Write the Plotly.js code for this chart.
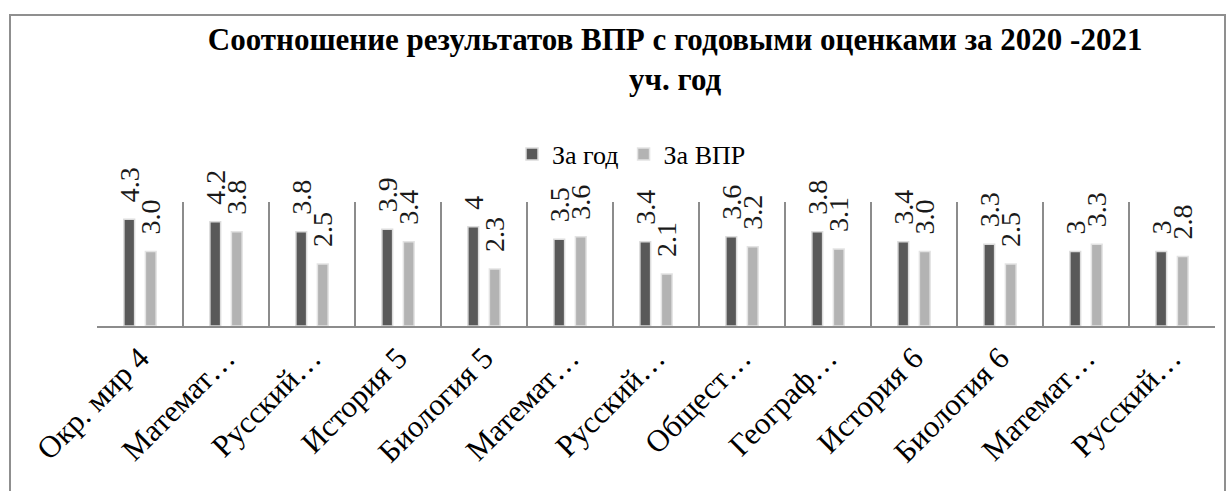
<!DOCTYPE html>
<html>
<head>
<meta charset="utf-8">
<script src="https://cdn.plot.ly/plotly-3.0.1.min.js"></script>
<style>
  html, body { margin: 0; padding: 0; background: #ffffff; }
  #chart { width: 1232px; height: 491px; }
</style>
</head>
<body>
<div id="chart"></div>
<script>
// Categories (tick labels as shown, truncated like the original)
var categories = [
  "Окр. мир 4", "Математ…", "Русский…", "История 5", "Биология 5",
  "Математ…", "Русский…", "Общест…", "Географ…", "История 6",
  "Биология 6", "Математ…", "Русский…"
];
// Series values
var zaGod = [4.3, 4.2, 3.8, 3.9, 4, 3.5, 3.4, 3.6, 3.8, 3.4, 3.3, 3, 3];
var zaVPR = [3.0, 3.8, 2.5, 3.4, 2.3, 3.6, 2.1, 3.2, 3.1, 3.0, 2.5, 3.3, 2.8];
var seriesNames = ["За год", "За ВПР"];

var idx = categories.map(function (_, i) { return i; });
var seps = [];
for (var k = 0; k <= categories.length; k++) seps.push(k - 0.5);

var serif = "'Liberation Serif', 'Times New Roman', Tinos, 'DejaVu Serif', serif";

var traceGod = {
  type: "bar",
  name: seriesNames[0],
  x: idx,
  y: zaGod,
  texttemplate: "\u00a0\u00a0%{y}",
  textposition: "outside",
  textangle: -90,
  constraintext: "none",
  cliponaxis: false,
  textfont: { family: serif, size: 28, color: "#1a1a1a" },
  marker: { color: "#595959", line: { color: "#dcdcdc", width: 1.5 } },
  hoverinfo: "skip"
};
var traceVPR = {
  type: "bar",
  name: seriesNames[1],
  x: idx,
  y: zaVPR,
  texttemplate: "\u00a0\u00a0%{y:.1f}",
  textposition: "outside",
  textangle: -90,
  constraintext: "none",
  cliponaxis: false,
  textfont: { family: serif, size: 28, color: "#1a1a1a" },
  marker: { color: "#b3b3b3", line: { color: "#e3e3e3", width: 1.5 } },
  hoverinfo: "skip"
};

var layout = {
  width: 1232,
  height: 491,
  margin: { l: 97, r: 17, t: 202, b: 165 },
  paper_bgcolor: "#ffffff",
  plot_bgcolor: "#ffffff",
  barmode: "group",
  bargap: 0.5,
  bargroupgap: 0.5,
  showlegend: true,
  font: { family: serif, color: "#000000" },
  title: {
    text: "Соотношение результатов ВПР с годовыми оценками за 2020 -2021<br>уч. год",
    font: { family: serif, size: 31, color: "#000000", weight: "bold" },
    x: 0.548,
    xanchor: "center",
    y: 1 - 50 / 491,
    yanchor: "top"
  },
  legend: {
    orientation: "h",
    x: (512 - 97) / 1118,
    xanchor: "left",
    y: (326 - 154) / 124,
    yanchor: "middle",
    font: { family: serif, size: 26, color: "#000000" },
    itemwidth: 30,
    tracegroupgap: 0,
    bgcolor: "rgba(0,0,0,0)"
  },
  xaxis: {
    range: [-0.5, categories.length - 0.5],
    tickmode: "array",
    tickvals: idx,
    ticktext: categories,
    tickangle: -45,
    tickfont: { family: serif, size: 31, color: "#000000" },
    ticks: "",
    automargin: false,
    showgrid: false,
    zeroline: false,
    showline: true,
    linecolor: "#8c8c8c",
    linewidth: 1.5,
    minor: {
      tickmode: "array",
      tickvals: seps,
      showgrid: true,
      gridcolor: "#8c8c8c",
      gridwidth: 1.5,
      ticks: ""
    },
    fixedrange: true
  },
  yaxis: {
    range: [0, 5],
    showticklabels: false,
    showgrid: false,
    zeroline: false,
    showline: false,
    ticks: "",
    fixedrange: true
  },
  shapes: [
    {
      type: "rect",
      xref: "paper",
      yref: "paper",
      x0: (10 - 97) / 1118,
      x1: (1225 - 97) / 1118,
      y0: (326 - 500) / 124,
      y1: (326 - 15) / 124,
      line: { color: "#8f8f8f", width: 2 },
      fillcolor: "rgba(0,0,0,0)",
      layer: "below"
    }
  ]
};

Plotly.newPlot("chart", [traceGod, traceVPR], layout, { displayModeBar: false, staticPlot: true });
</script>
</body>
</html>
